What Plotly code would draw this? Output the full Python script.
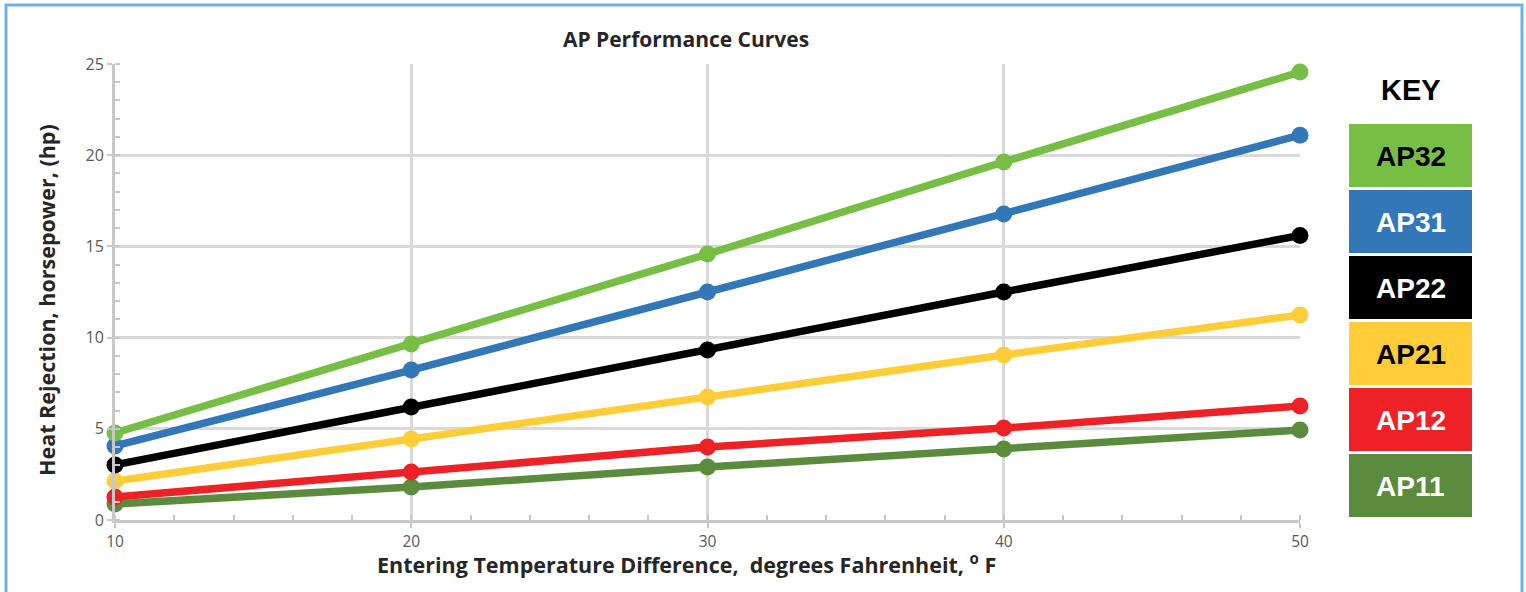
import plotly.graph_objects as go

x_vals = [10, 20, 30, 40, 50]
series_names = ["AP32", "AP31", "AP22", "AP21", "AP12", "AP11"]
ap32 = [4.77, 9.65, 14.58, 19.63, 24.56]
ap31 = [4.06, 8.22, 12.5, 16.78, 21.1]
ap22 = [3.02, 6.2, 9.32, 12.5, 15.6]
ap21 = [2.14, 4.44, 6.74, 9.05, 11.24]
ap12 = [1.26, 2.63, 4.0, 5.04, 6.25]
ap11 = [0.88, 1.81, 2.9, 3.89, 4.93]
series_values = [ap32, ap31, ap22, ap21, ap12, ap11]
colors = ["#77bf44", "#3277b8", "#000000", "#fecd37", "#ee2226", "#5b8b3d"]
key_text_colors = ["#000000", "#ffffff", "#ffffff", "#000000", "#ffffff", "#ffffff"]

W, H = 1526, 592
L, R, T, B = 115, 1300, 64, 520  # plot area bounds in px

def px(xp):
    return (xp - L) / (R - L)

def py(yp):
    return (B - yp) / (B - T)

fig = go.Figure()
for name, vals, c in reversed(list(zip(series_names, series_values, colors))):
    fig.add_trace(go.Scatter(
        x=x_vals, y=vals, name=name, mode="lines+markers",
        line=dict(color=c, width=7.5), marker=dict(color=c, size=17),
        showlegend=False, cliponaxis=False))

shapes = []
annotations = []
# outer border
shapes.append(dict(type="rect", xref="paper", yref="paper",
                   x0=px(6), x1=px(1522), y0=py(640), y1=py(5),
                   line=dict(color="#6db3e8", width=3), fillcolor="rgba(0,0,0,0)", layer="below"))

# axis titles as annotations
annotations.append(dict(text="<b>Entering Temperature Difference,  degrees Fahrenheit, <sup>o</sup> F</b>",
                        xref="paper", yref="paper", x=px(686), y=py(563), showarrow=False,
                        xanchor="center", yanchor="middle",
                        font=dict(family="Open Sans", size=21.5, color="#262626")))
annotations.append(dict(text="<b>Heat Rejection, horsepower, (hp)</b>",
                        xref="paper", yref="paper", x=px(46), y=py(300), showarrow=False,
                        xanchor="center", yanchor="middle", textangle=-90,
                        font=dict(family="Open Sans", size=21.5, color="#262626")))

# key
annotations.append(dict(text="<b>KEY</b>", xref="paper", yref="paper",
                        x=px(1411), y=py(90), showarrow=False,
                        font=dict(family="Liberation Sans", size=29, color="#000000"),
                        xanchor="center", yanchor="middle"))
box_top = 124
box_h = 63
gap = 3
for i, (name, c, tc) in enumerate(zip(series_names, colors, key_text_colors)):
    y0p = box_top + i * (box_h + gap)
    y1p = y0p + box_h
    shapes.append(dict(type="rect", xref="paper", yref="paper",
                       x0=px(1349), x1=px(1472), y0=py(y1p), y1=py(y0p),
                       line=dict(width=0), fillcolor=c))
    annotations.append(dict(text="<b>%s</b>" % name, xref="paper", yref="paper",
                            x=px(1410.5), y=py((y0p + y1p) / 2 + 1), showarrow=False,
                            font=dict(family="Liberation Sans", size=28, color=tc),
                            xanchor="center", yanchor="middle"))

fig.update_layout(
    width=W, height=H,
    margin=dict(l=L, r=W - R, t=T, b=H - B, pad=0),
    paper_bgcolor="white", plot_bgcolor="white",
    font=dict(family="Open Sans", color="#595959", size=15),
    title=dict(text="<b>AP Performance Curves</b>", x=686 / W, xanchor="center",
               y=1 - 40 / H, yanchor="middle",
               font=dict(family="Open Sans", size=21, color="#262626")),
    shapes=shapes, annotations=annotations,
    xaxis=dict(range=[10, 50], tickvals=[10, 20, 30, 40, 50], showgrid=True,
               gridcolor="#d9d9d9", gridwidth=3, zeroline=False,
               showline=True, linecolor="#c8c8c8", linewidth=3,
               ticks="outside", ticklen=5, tickwidth=2, tickcolor="#c8c8c8",
               tickfont=dict(size=15.5, color="#595959"),
               minor=dict(dtick=2, ticks="inside", ticklen=5, tickwidth=2,
                          tickcolor="#c8c8c8", showgrid=False)),
    yaxis=dict(range=[0, 25], tickvals=[0, 5, 10, 15, 20, 25], showgrid=True,
               gridcolor="#d9d9d9", gridwidth=3, zeroline=False,
               showline=True, linecolor="#c8c8c8", linewidth=3,
               ticks="outside", ticklen=5, tickwidth=2, tickcolor="#c8c8c8",
               tickfont=dict(size=16, color="#595959"),
               minor=dict(dtick=1, ticks="inside", ticklen=5, tickwidth=2,
                          tickcolor="#c8c8c8", showgrid=False)),
)

fig.write_html("out.html", config={"displayModeBar": False},
               post_script="document.body.style.margin='0';document.body.style.overflow='hidden';")
